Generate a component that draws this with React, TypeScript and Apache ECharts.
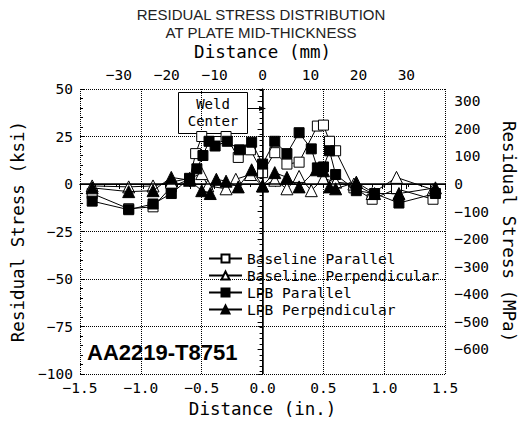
import React, { useEffect, useRef } from "react";
import * as echarts from "echarts";

const titleLines = ["RESIDUAL STRESS DISTRIBUTION", "AT PLATE MID-THICKNESS"];
const seriesNames = ["Baseline Parallel", "Baseline Perpendicular", "LPB Parallel", "LPB Perpendicular"];

// Baseline Parallel (open squares), distance in inches, stress in ksi
const bpX = [-1.4, -1.1, -0.9, -0.75, -0.6, -0.55, -0.5, -0.3, -0.2, -0.1, 0, 0.1, 0.2, 0.3, 0.45, 0.5, 0.55, 0.6, 0.75, 0.9, 1.1, 1.4];
const bpY = [-5, -13, -12, -1.5, 2.5, 16, 25, 25, 14, 18, 6, 16.5, 10.5, 11.5, 30.5, 31, 22.5, 17.5, -2, -8, -2.5, -8];

// Baseline Perpendicular (open triangles)
const bnX = [-1.4, -1.1, -0.9, -0.75, -0.6, -0.5, -0.45, -0.3, -0.22, -0.1, 0, 0.1, 0.2, 0.3, 0.4, 0.5, 0.6, 0.75, 0.9, 1.1, 1.4];
const bnY = [-1, -1.5, -1, 1, 3, 5.5, -1, -2.5, 2.5, 5, -1, 2, -2.5, 4, -3.5, 3, 1, 0, -5, 3.5, -3];

// LPB Parallel (filled squares)
const lpX = [-1.4, -1.1, -0.9, -0.75, -0.6, -0.54, -0.49, -0.44, -0.39, -0.29, -0.19, -0.09, 0, 0.1, 0.2, 0.3, 0.4, 0.45, 0.5, 0.55, 0.6, 0.77, 0.92, 1.12, 1.42];
const lpY = [-9, -13.5, -10.5, -5, 3, 8, 15, 22.5, 20, 22.5, 18, 22, 10.5, 22.5, 16, 27, 18.5, 8.5, 9, 17.5, 5, -3.5, -5, -10, -5];

// LPB Perpendicular (filled triangles)
const lnX = [-1.4, -1.1, -0.9, -0.75, -0.6, -0.5, -0.43, -0.38, -0.3, -0.2, -0.09, 0, 0.1, 0.2, 0.3, 0.44, 0.5, 0.55, 0.6, 0.77, 0.92, 1.12, 1.42];
const lnY = [-2, -4, -3.5, 3.5, 2, -3.5, -5, 2.5, 1.5, -1.5, 7.5, -1, 6, 3.5, -1.5, 7.5, 7, -1.5, -2.5, 1, -5, -5, -2];

const ksiMin = -100;
const ksiMax = 50;
const ksiStep = 25;
const inMin = -1.5;
const inMax = 1.5;
const inStep = 0.5;
const MPA_PER_KSI = 6.894757;
const MM_PER_IN = 25.4;

const MONO = "DejaVu Sans Mono";
const SANS = "Liberation Sans";

const fmtMinus = (s: string) => s.replace("-", "\u2212");

const zip = (xs: number[], ys: number[]) => xs.map((x, i) => [x, ys[i]]);

export default function App() {
  const ref = useRef<HTMLDivElement>(null);

  useEffect(() => {
    if (!ref.current) return;
    const chart = echarts.init(ref.current, null, { renderer: "svg" });

    const labelStyle = { fontFamily: MONO, fontSize: 14.5, color: "#000" };
    const nameStyle = { fontFamily: MONO, fontSize: 17.5, color: "#000" };
    const axisLine = { show: true, lineStyle: { color: "#000", width: 1 } };

    const mkSeries = (name: string, data: number[][], symbol: string, filled: boolean, size: number) => ({
      name,
      type: "line",
      data,
      xAxisIndex: 0,
      yAxisIndex: 0,
      symbol,
      symbolSize: size,
      showAllSymbol: true,
      lineStyle: { color: "#000", width: 1 },
      itemStyle: { color: filled ? "#000" : "#fff", borderColor: "#000", borderWidth: 1 },
      z: filled ? 4 : 3,
    });

    const s0: any = mkSeries(seriesNames[0], zip(bpX, bpY), "rect", false, 10);
    s0.markLine = {
      silent: true,
      symbol: "none",
      label: { show: false },
      lineStyle: { color: "#000", width: 1.5, type: "solid" },
      data: [{ xAxis: 0 }, { yAxis: 0 }],
    };

    const option: any = {
      animation: false,
      backgroundColor: "#fff",
      grid: { left: 80, right: 74, top: 89, bottom: 46, containLabel: false },
      legend: {
        orient: "vertical",
        left: 208,
        top: 251,
        padding: 0,
        itemWidth: 33,
        itemHeight: 10,
        itemGap: 2,
        textStyle: { fontFamily: MONO, fontSize: 14.5, color: "#000", lineHeight: 14 },
        data: seriesNames,
      },
      xAxis: [
        {
          type: "value",
          position: "bottom",
          min: inMin,
          max: inMax,
          interval: inStep,
          name: "Distance (in.)",
          nameLocation: "middle",
          nameGap: 24,
          nameTextStyle: nameStyle,
          axisLine,
          axisTick: { show: true, inside: false, length: 4, lineStyle: { color: "#000" } },
          minorTick: { show: true, splitNumber: 5, length: 3, lineStyle: { color: "#000" } },
          axisLabel: { ...labelStyle, margin: 6, formatter: (v: number) => fmtMinus(v.toFixed(1)) },
          splitLine: { show: true, lineStyle: { color: "#000", type: "dotted", width: 1 } },
        },
        {
          type: "value",
          position: "top",
          min: inMin * MM_PER_IN,
          max: inMax * MM_PER_IN,
          splitNumber: 8,
          minInterval: 10,
          maxInterval: 10,
          name: "Distance (mm)",
          nameLocation: "middle",
          nameGap: 28,
          nameTextStyle: nameStyle,
          axisLine,
          axisTick: { show: true, inside: true, length: 5, lineStyle: { color: "#000" } },
          minorTick: { show: true, splitNumber: 2, length: 5, lineStyle: { color: "#000" } },
          axisLabel: { ...labelStyle, margin: 7, showMinLabel: false, showMaxLabel: false, formatter: (v: number) => fmtMinus(String(Math.round(v))) },
          splitLine: { show: false },
        },
      ],
      yAxis: [
        {
          type: "value",
          position: "left",
          min: ksiMin,
          max: ksiMax,
          interval: ksiStep,
          name: "Residual Stress (ksi)",
          nameLocation: "middle",
          nameGap: 53,
          nameTextStyle: nameStyle,
          axisLine,
          axisTick: { show: true, inside: false, length: 5, lineStyle: { color: "#000" } },
          minorTick: { show: false },
          axisLabel: { ...labelStyle, margin: 7, formatter: (v: number) => fmtMinus(String(v)) },
          splitLine: { show: true, lineStyle: { color: "#000", type: "dotted", width: 1 } },
        },
        {
          type: "value",
          position: "right",
          min: ksiMin * MPA_PER_KSI,
          max: ksiMax * MPA_PER_KSI,
          splitNumber: 10,
          minInterval: 100,
          maxInterval: 100,
          name: "Residual Stress (MPa)",
          nameLocation: "middle",
          nameGap: 49,
          nameRotate: -90,
          nameTextStyle: nameStyle,
          axisLine,
          axisTick: { show: true, inside: true, length: 5, lineStyle: { color: "#000" } },
          minorTick: { show: true, splitNumber: 5, length: 3, lineStyle: { color: "#000" } },
          axisLabel: { ...labelStyle, margin: 9, showMinLabel: false, showMaxLabel: false, formatter: (v: number) => fmtMinus(String(Math.round(v))) },
          splitLine: { show: false },
        },
        {
          type: "value",
          position: "left",
          min: ksiMin,
          max: ksiMax,
          interval: ksiStep,
          axisLine: { show: false },
          axisTick: { show: true, inside: true, length: 4, lineStyle: { color: "#000" } },
          minorTick: { show: true, splitNumber: 5, length: 3, lineStyle: { color: "#000" } },
          axisLabel: { show: false },
          splitLine: { show: false },
        },
      ],
      series: [
        s0,
        mkSeries(seriesNames[1], zip(bnX, bnY), "triangle", false, 12),
        mkSeries(seriesNames[2], zip(lpX, lpY), "rect", true, 10),
        mkSeries(seriesNames[3], zip(lnX, lnY), "triangle", true, 12),
      ],
      graphic: [
        {
          type: "text",
          style: {
            x: 261,
            y: 5,
            text: titleLines.join("\n"),
            font: `15px "${SANS}"`,
            fill: "#222",
            align: "center",
            lineHeight: 18,
          },
        },
        {
          type: "group",
          z: 100,
          children: [
            {
              type: "rect",
              shape: { x: 178.5, y: 92.5, width: 69, height: 41 },
              style: { fill: "#fff", stroke: "#000", lineWidth: 1 },
            },
            {
              type: "text",
              style: {
                x: 213,
                y: 112.5,
                text: "Weld\nCenter",
                font: `14px "${MONO}"`,
                fill: "#000",
                align: "center",
                verticalAlign: "middle",
                lineHeight: 17,
              },
            },
            {
              type: "line",
              shape: { x1: 248, y1: 108.5, x2: 260, y2: 108.5 },
              style: { stroke: "#000", lineWidth: 1 },
            },
            {
              type: "polygon",
              shape: { points: [[259, 106], [266, 108.5], [259, 111]] },
              style: { fill: "#000" },
            },
          ],
        },
        {
          type: "text",
          z: 100,
          style: {
            x: 87,
            y: 352,
            text: "AA2219-T8751",
            font: `bold 22px "${SANS}"`,
            fill: "#000",
            verticalAlign: "middle",
          },
        },
      ],
    };

    chart.setOption(option);
    return () => chart.dispose();
  }, []);

  return <div ref={ref} style={{ position: "fixed", left: 0, top: 0, width: 526, height: 423 }} />;
}
